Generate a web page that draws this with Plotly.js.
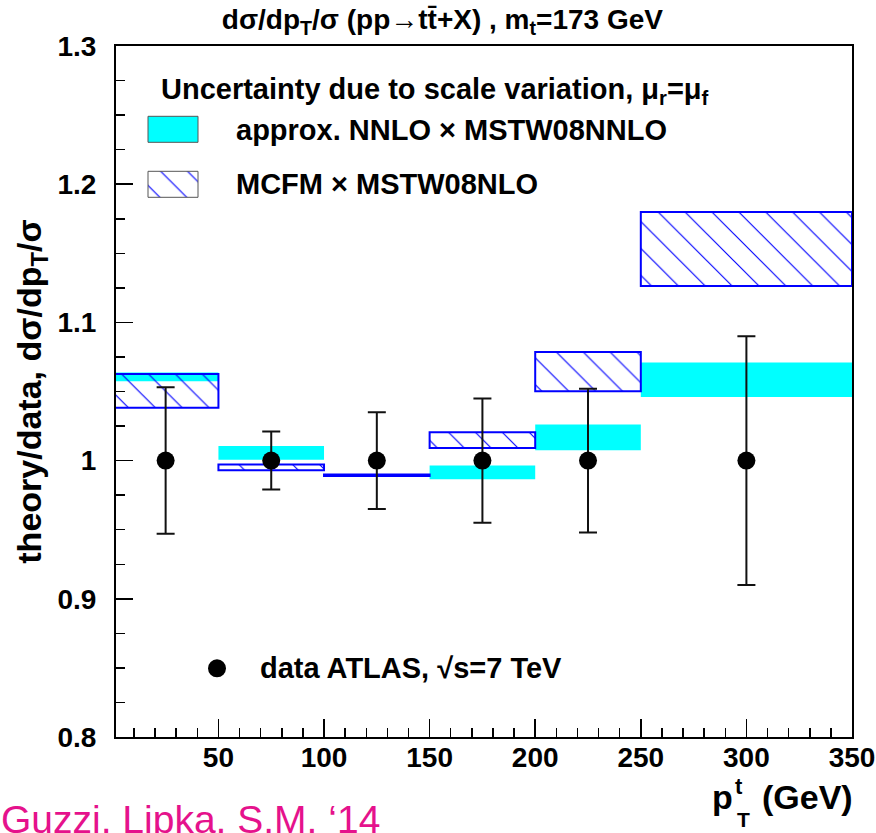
<!DOCTYPE html>
<html><head><meta charset="utf-8">
<script src="https://cdn.plot.ly/plotly-3.0.1.min.js"></script>
<style>html,body{margin:0;padding:0;background:#fff}</style>
</head><body><div id="chart" style="width:876px;height:833px"></div>
<script>
// ---- data ----
const binLo = [0, 50, 100, 150, 200, 250];
const binHi = [50, 100, 150, 200, 250, 350];
const dataX = [25, 75, 125, 175, 225, 300];
const dataY = [1, 1, 1, 1, 1, 1];
const dataErr = [0.053, 0.021, 0.035, 0.045, 0.052, 0.090];
const nnloLo = [1.0574, 1.0007, 0.9894, 0.9865, 1.0075, 1.0460];
const nnloHi = [1.0637, 1.0106, 0.9894, 0.9964, 1.0261, 1.0709];
const mcfmLo = [1.0383, 0.9930, 0.9889, 1.0091, 1.0501, 1.1263];
const mcfmHi = [1.0627, 0.9971, 0.9899, 1.0205, 1.0786, 1.1799];
const yTicks = [0.8, 0.9, 1.0, 1.1, 1.2, 1.3];
const yTickText = ['0.8', '0.9', '1', '1.1', '1.2', '1.3'];
const xTicks = [50, 100, 150, 200, 250, 300, 350];
const xTickText = ['50', '100', '150', '200', '250', '300', '350'];

// ---- layout helpers (pixel -> paper for text/legend placement) ----
const L = 116, R = 852, T = 45.7, B = 736.7;
const W = 876, H = 833;
const px = v => (v - L) / (R - L);
const py = v => (B - v) / (B - T);

const FONT = 'Liberation Sans, Arial, Helvetica, sans-serif';
const CYAN = '#00ffff';
const BLUE = '#0000ff';

const centers = binLo.map((lo, i) => (lo + binHi[i]) / 2);
const widths = binLo.map((lo, i) => binHi[i] - lo);

const hatch = {shape: '\\', fgcolor: BLUE, fgopacity: 1, bgcolor: 'rgba(0,0,0,0)', size: 19, solidity: 0.06, fillmode: 'overlay'};

const traces = [
  {
    type: 'bar', name: 'approx. NNLO × MSTW08NNLO',
    x: centers, width: widths, base: nnloLo,
    y: nnloHi.map((h, i) => h - nnloLo[i]),
    marker: {color: CYAN, line: {width: 0}},
    showlegend: false, hoverinfo: 'skip'
  },
  {
    type: 'bar', name: 'MCFM × MSTW08NLO',
    x: centers, width: widths, base: mcfmLo,
    y: mcfmHi.map((h, i) => h - mcfmLo[i]),
    marker: {color: 'rgba(0,0,0,0)', line: {color: BLUE, width: 2}, pattern: hatch},
    showlegend: false, hoverinfo: 'skip'
  },
  {
    type: 'scatter', mode: 'markers', name: 'data ATLAS',
    x: dataX, y: dataY,
    marker: {color: '#000', size: 18},
    error_y: {type: 'data', array: dataErr, visible: true, color: '#111', thickness: 2, width: 9},
    showlegend: false, cliponaxis: false
  },
  // legend glyphs (drawn on an overlay paper-like axis pair)
  {
    type: 'bar', xaxis: 'x2', yaxis: 'y2',
    x: [px(173)], width: [px(198) - px(148)], base: [py(142)], y: [py(116) - py(142)],
    marker: {color: CYAN, line: {color: '#555', width: 1}},
    showlegend: false, hoverinfo: 'skip'
  },
  {
    type: 'bar', xaxis: 'x2', yaxis: 'y2',
    x: [px(173)], width: [px(198) - px(148)], base: [py(197)], y: [py(171) - py(197)],
    marker: {color: 'rgba(0,0,0,0)', line: {color: '#555', width: 1}, pattern: hatch},
    showlegend: false, hoverinfo: 'skip'
  },
  {
    type: 'scatter', mode: 'markers', xaxis: 'x2', yaxis: 'y2',
    x: [px(217)], y: [py(668)],
    marker: {color: '#000', size: 18},
    showlegend: false, hoverinfo: 'skip'
  }
];

const bold = (size, color) => ({family: FONT, size: size, color: color || '#000', weight: 700});

const annotations = [
  {text: 'Uncertainty due to scale variation, μ<sub>r</sub>=μ<sub>f</sub>', x: px(160), y: py(91), xanchor: 'left', yanchor: 'middle', font: bold(29)},
  {text: 'approx. NNLO × MSTW08NNLO', x: px(235), y: py(130), xanchor: 'left', yanchor: 'middle', font: bold(29)},
  {text: 'MCFM × MSTW08NLO', x: px(235), y: py(184), xanchor: 'left', yanchor: 'middle', font: bold(29)},
  {text: 'data ATLAS, √s=7 TeV', x: px(259), y: py(668), xanchor: 'left', yanchor: 'middle', font: bold(29)},
  {text: 'p', x: px(711), y: py(797), xanchor: 'left', yanchor: 'middle', font: bold(34)},
  {text: 't', x: px(734), y: py(786), xanchor: 'left', yanchor: 'middle', font: bold(22)},
  {text: 'T', x: px(736), y: py(819), xanchor: 'left', yanchor: 'middle', font: bold(21)},
  {text: '(GeV)', x: px(854), y: py(797), xanchor: 'right', yanchor: 'middle', font: bold(34)},
  {text: 'Guzzi, Lipka, S.M. ‘14', x: px(0), y: py(797), xanchor: 'left', yanchor: 'top', font: {family: FONT, size: 39, color: '#e5128c'}}
].map(a => Object.assign({xref: 'paper', yref: 'paper', showarrow: false, borderpad: 0}, a));

const layout = {
  width: W, height: H,
  margin: {l: L, r: W - R, t: T, b: H - B, pad: 0},
  paper_bgcolor: '#fff', plot_bgcolor: '#fff',
  barmode: 'overlay',
  showlegend: false,
  title: {
    text: 'dσ/dp<sub>T</sub>/σ (pp→tt\u0304+X) , m<sub>t</sub>=173 GeV',
    font: bold(28), xref: 'container', x: 0.505, xanchor: 'center',
    yref: 'container', y: 1 - 19 / H, yanchor: 'middle'
  },
  xaxis: {
    range: [1.5, 350], showgrid: false, zeroline: false,
    showline: true, linecolor: '#000', linewidth: 2, mirror: true,
    ticks: 'inside', ticklen: 18, tickwidth: 1.5, tickcolor: '#000',
    tickmode: 'array', tickvals: xTicks, ticktext: xTickText,
    tickfont: bold(28), ticklabelstandoff: -6,
    minor: {tickmode: 'linear', tick0: 0, dtick: 10, ticks: 'inside', ticklen: 9, tickwidth: 1.5, tickcolor: '#000', showgrid: false}
  },
  yaxis: {
    range: [0.8, 1.3], showgrid: false, zeroline: false,
    showline: true, linecolor: '#000', linewidth: 2, mirror: true,
    ticks: 'inside', ticklen: 17, tickwidth: 1.5, tickcolor: '#000',
    tickmode: 'array', tickvals: yTicks, ticktext: yTickText,
    tickfont: bold(28), ticklabelstandoff: 12,
    minor: {tickmode: 'linear', tick0: 0.8, dtick: 0.025, ticks: 'inside', ticklen: 8.5, tickwidth: 1.5, tickcolor: '#000', showgrid: false},
    title: {text: 'theory/data, dσ/dp<sub>T</sub>/σ', font: bold(34), standoff: 6}
  },
  xaxis2: {overlaying: 'x', anchor: 'y2', range: [0, 1], visible: false, fixedrange: true},
  yaxis2: {overlaying: 'y', anchor: 'x2', range: [0, 1], visible: false, fixedrange: true},
  annotations: annotations
};

Plotly.newPlot('chart', traces, layout, {displayModeBar: false, staticPlot: true});
</script>
</body></html>
